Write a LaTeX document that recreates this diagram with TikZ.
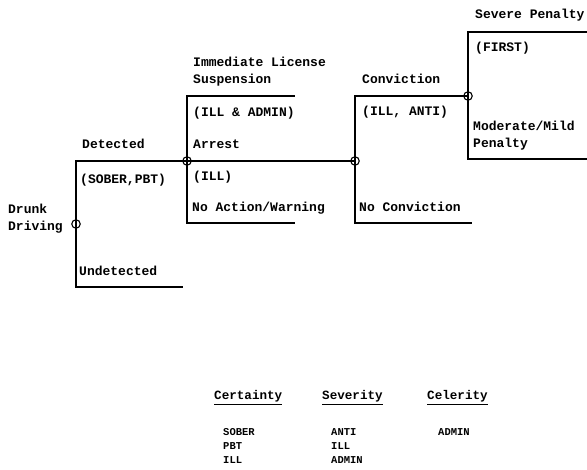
\documentclass[tikz,border=0pt]{standalone}
\usepackage{fontspec}
\setmonofont{Liberation Mono}
\usepackage{tikz}

\begin{document}
\begin{tikzpicture}[x=1pt, y=-1pt,
    branch/.style={line width=1.3pt},
    chance/.style={circle, draw, line width=1.1pt, inner sep=0pt, minimum size=8.5pt},
    lbl/.style={anchor=base west, inner sep=0pt, font=\fontsize{13}{17}\selectfont\ttfamily\bfseries},
    lbltwo/.style={anchor=west, inner sep=0pt, align=left, font=\fontsize{13}{17}\selectfont\ttfamily\bfseries},
    head/.style={anchor=base west, inner sep=0pt, font=\fontsize{12.6}{15}\selectfont\ttfamily\bfseries},
    item/.style={anchor=base west, inner sep=0pt, font=\fontsize{10.5}{12}\selectfont\ttfamily\bfseries}]
                \useasboundingbox (0,0) rectangle (587,470);
                % chance nodes
                \coordinate (dd) at (76,224);
                \coordinate (arr) at (187,161);
                \coordinate (conv) at (355,161);
                \coordinate (pen) at (468,96);
                % free ends of the branches
                \coordinate (undet) at (183,287);
                \coordinate (susp) at (295,96);
                \coordinate (noact) at (295,223);
                \coordinate (noconv) at (472,223);
                \coordinate (sev) at (587,32);
                \coordinate (mild) at (587,159);
                % branches
                \draw[branch] (dd) |- (arr);
                \draw[branch] (dd) |- (undet);
                \draw[branch] (arr) |- (susp);
                \draw[branch] (arr) |- (noact);
                \draw[branch] (arr) -- (conv);
                \draw[branch] (conv) |- (pen);
                \draw[branch] (conv) |- (noconv);
                \draw[branch] (pen) |- (sev);
                \draw[branch] (pen) |- (mild);
                \node[chance] (ddc) at (dd) {};
                \node[chance] (arrc) at (arr) {};
                \node[chance] (convc) at (conv) {};
                \node[chance] (penc) at (pen) {};
                % labels
                \node[lbltwo] (ddlbl) at (8,219) {Drunk\\Driving};
                \node[lbl] (detlbl) at (82,149) {Detected};
                \node[lbl] (detcue) at (80,184) {(SOBER,PBT)};
                \node[lbl] (undetlbl) at (79,276) {Undetected};
                \node[lbltwo] (susplbl) at (193,72) {Immediate License\\Suspension};
                \node[lbl] (suspcue) at (193,117) {(ILL \& ADMIN)};
                \node[lbl] (arrlbl) at (193,149) {Arrest};
                \node[lbl] (noactcue) at (193,181) {(ILL)};
                \node[lbl] (noactlbl) at (192,212) {No Action/Warning};
                \node[lbl] (convlbl) at (362,84) {Conviction};
                \node[lbl] (convcue) at (362,116) {(ILL, ANTI)};
                \node[lbl] (noconvlbl) at (359,212) {No Conviction};
                \node[lbl] (sevlbl) at (475,19) {Severe Penalty};
                \node[lbl] (sevcue) at (475,52) {(FIRST)};
                \node[lbltwo] (mildlbl) at (473,136) {Moderate/Mild\\Penalty};
                % legend
                \node[head] (cert) at (214,400) {\underline{Certainty}};
                \node[head] (seve) at (322,400) {\underline{Severity}};
                \node[head] (cele) at (427,400) {\underline{Celerity}};
                \node[item] (sober) at (223,436) {SOBER};
                \node[item] (pbt) at (223,450) {PBT};
                \node[item] (illc) at (223,464) {ILL};
                \node[item] (anti) at (331,436) {ANTI};
                \node[item] (ills) at (331,450) {ILL};
                \node[item] (admins) at (331,464) {ADMIN};
                \node[item] (adminc) at (438,436) {ADMIN};
            \end{tikzpicture}
\end{document}
